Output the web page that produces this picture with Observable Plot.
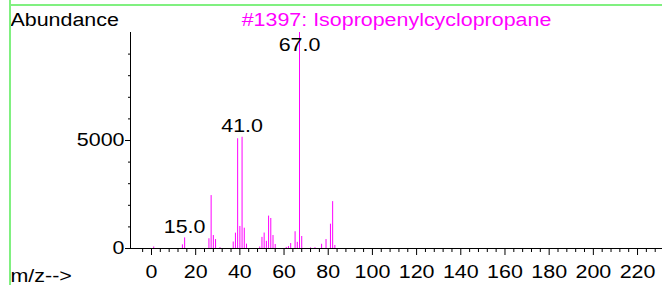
<!DOCTYPE html>
<html><head><meta charset="utf-8">
<script src="https://cdn.jsdelivr.net/npm/d3@7"></script>
<script src="https://cdn.jsdelivr.net/npm/@observablehq/plot@0.6"></script>
<style>
html,body{margin:0;padding:0;background:#fff;}
#wrap{position:relative;width:662px;height:285px;overflow:hidden;}
.gh{position:absolute;left:9px;top:4px;width:653px;height:2px;background:#80f080;}
.gv{position:absolute;left:9px;top:0;width:2px;height:285px;background:#80f080;}
</style></head><body><div id="wrap"><div class="gh"></div><div class="gv"></div></div>
<script>
const mz =        [1, 14, 15, 26, 27, 28, 29, 31, 37, 38, 39, 40, 41, 42, 43, 49, 50, 51, 52, 53, 54, 55, 56, 61, 62, 63, 65, 66, 67, 68, 72, 74, 77, 79, 81, 82, 83];
const abundance = [70, 170, 490, 450, 2450, 600, 415, 40, 300, 710, 5080, 1020, 5150, 940, 200, 70, 515, 715, 330, 1500, 1390, 600, 185, 50, 90, 230, 775, 285, 9999, 555, 30, 40, 195, 415, 1125, 2170, 140];
const peakLabels = [15, 41, 67];
const xTickLabels = d3.range(0, 221, 20);
const yTickLabels = [0, 5000];
const chartTitle = "#1397: Isopropenylcyclopropane";
const yTitle = "Abundance";
const xTitle = "m/z-->";

const spectrum = mz.map((m, i) => ({mz: m, abundance: abundance[i]}));
const peaks = spectrum.filter(d => peakLabels.includes(d.mz));
const xDomain = [-9.5, 231.3];
const minorX = d3.range(-4, 231, 4).filter(v => v % 20 !== 0);
const minorY = d3.range(1000, 10000, 1000).filter(v => v !== 5000);
const MAG = "#ff00ff";
const FS = 18;

const svg = Plot.plot({
  width: 662, height: 285,
  marginLeft: 130, marginRight: 0, marginTop: 32, marginBottom: 37,
  x: {domain: xDomain, label: null},
  y: {domain: [0, 10000], label: null},
  style: {fontFamily: "'Liberation Sans', Arial, sans-serif", fontSize: FS + "px", background: "transparent", color: "#000"},
  marks: [
    Plot.ruleX(spectrum, {x: "mz", y1: 0, y2: "abundance", stroke: MAG, strokeWidth: 1}),
    Plot.ruleX([xDomain[0]], {stroke: "#000"}),
    Plot.ruleY([0], {stroke: "#000"}),
    Plot.axisX({ticks: xTickLabels, tickSize: 7, tickPadding: 10, fontSize: FS, tickFormat: d3.format("d"), label: null}),
    Plot.axisX({ticks: minorX, tickSize: 4, tickFormat: () => "", label: null}),
    Plot.axisY({ticks: yTickLabels, tickSize: 5, tickPadding: 1, fontSize: FS, tickFormat: d3.format("d"), label: null}),
    Plot.axisY({ticks: minorY, tickSize: 2, tickFormat: () => "", label: null}),
    Plot.text(peaks, {x: "mz", y: d => Math.min(d.abundance, 8930), text: d => d.mz.toFixed(1), dy: -5, lineAnchor: "bottom", fill: "#000", fontSize: FS}),
    Plot.text([chartTitle], {frameAnchor: "top", dy: -7, lineAnchor: "bottom", fill: MAG, fontSize: FS}),
    Plot.text([yTitle], {frameAnchor: "top-left", dx: -120, dy: -7, textAnchor: "start", lineAnchor: "bottom", fill: "#000", fontSize: FS}),
    Plot.text([xTitle], {frameAnchor: "bottom-left", dx: -120, dy: 33, textAnchor: "start", lineAnchor: "bottom", fill: "#000", fontSize: FS})
  ]
});
svg.style.position = "absolute";
svg.style.left = "0";
svg.style.top = "0";
document.getElementById("wrap").prepend(svg);
svg.querySelectorAll("text").forEach(t => {
  const w = t.getComputedTextLength();
  if (w > 0) {
    t.setAttribute("textLength", (w * 1.19).toFixed(1));
    t.setAttribute("lengthAdjust", "spacingAndGlyphs");
  }
});
</script></body></html>
